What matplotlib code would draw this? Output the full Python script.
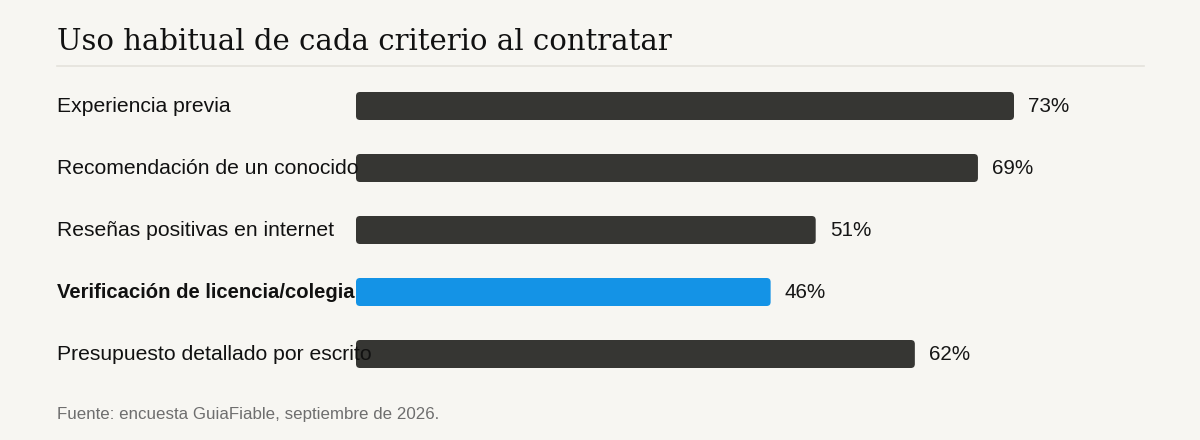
import matplotlib
matplotlib.use("Agg")
import matplotlib.pyplot as plt
from matplotlib.patches import FancyBboxPatch
from matplotlib.transforms import blended_transform_factory

categories = ["Experiencia previa", "Recomendación de un conocido",
              "Reseñas positivas en internet", "Verificación de licencia/colegia",
              "Presupuesto detallado por escrito"]
values = [73, 69, 51, 46, 62]
highlight = "Verificación de licencia/colegia"
title = "Uso habitual de cada criterio al contratar"
source = "Fuente: encuesta GuiaFiable, septiembre de 2026."

W, H = 1200, 440
BG = "#f7f6f2"
DARK = "#363633"
BLUE = "#1493e6"

fig = plt.figure(figsize=(W / 100, H / 100), dpi=100, facecolor=BG)

# axes in pixel geometry
ax_left, ax_right = 356, 1144
ax_top, ax_bot = 75, 385
ax = fig.add_axes([ax_left / W, 1 - ax_bot / H, (ax_right - ax_left) / W, (ax_bot - ax_top) / H])
ax.set_facecolor(BG)
px_per_unit = 658 / 73
ax.set_xlim(0, (ax_right - ax_left) / px_per_unit)
ax.set_ylim(len(categories) - 0.5, -0.5)
ax.axis("off")

slot_px = (ax_bot - ax_top) / len(categories)
bar_h = 28 / slot_px
aspect = (1 / slot_px) / (1 / px_per_unit)
r = 4 / px_per_unit

bars = ax.barh(range(len(categories)), values, height=bar_h, color="none")
for i, (b, cat, v) in enumerate(zip(bars, categories, values)):
    col = BLUE if cat == highlight else DARK
    p = FancyBboxPatch((b.get_x(), b.get_y()), b.get_width(), b.get_height(),
                       boxstyle=f"round,pad=0,rounding_size={r}",
                       mutation_aspect=aspect, facecolor=col, edgecolor="none", zorder=2)
    ax.add_patch(p)
    ax.text(v + 14 / px_per_unit, i, f"{v}%", va="center", ha="left",
            fontsize=14.9, family="Liberation Sans", color="#161616", zorder=3)

trans = blended_transform_factory(fig.transFigure, ax.transData)
for i, cat in enumerate(categories):
    bold = cat == highlight
    ax.text(57 / W, i, cat, transform=trans, va="center", ha="left",
            fontsize=14.6 if bold else 15.2, family="Liberation Sans",
            fontweight="bold" if bold else "normal",
            color="#111111", zorder=4, clip_on=False)

fig.text(57 / W, 1 - 50 / H, title, fontsize=21, family="DejaVu Serif",
         color="#111111", va="baseline", ha="left")
fig.add_artist(plt.Line2D([57 / W, 1144 / W], [1 - 65.5 / H, 1 - 65.5 / H],
                          color="#e4e2dc", lw=1.2, transform=fig.transFigure))
fig.text(57 / W, 1 - 419 / H, source, fontsize=12.2, family="Liberation Sans",
         color="#6e6e6e", va="baseline", ha="left")

fig.savefig("out.png", dpi=100, facecolor=BG)
